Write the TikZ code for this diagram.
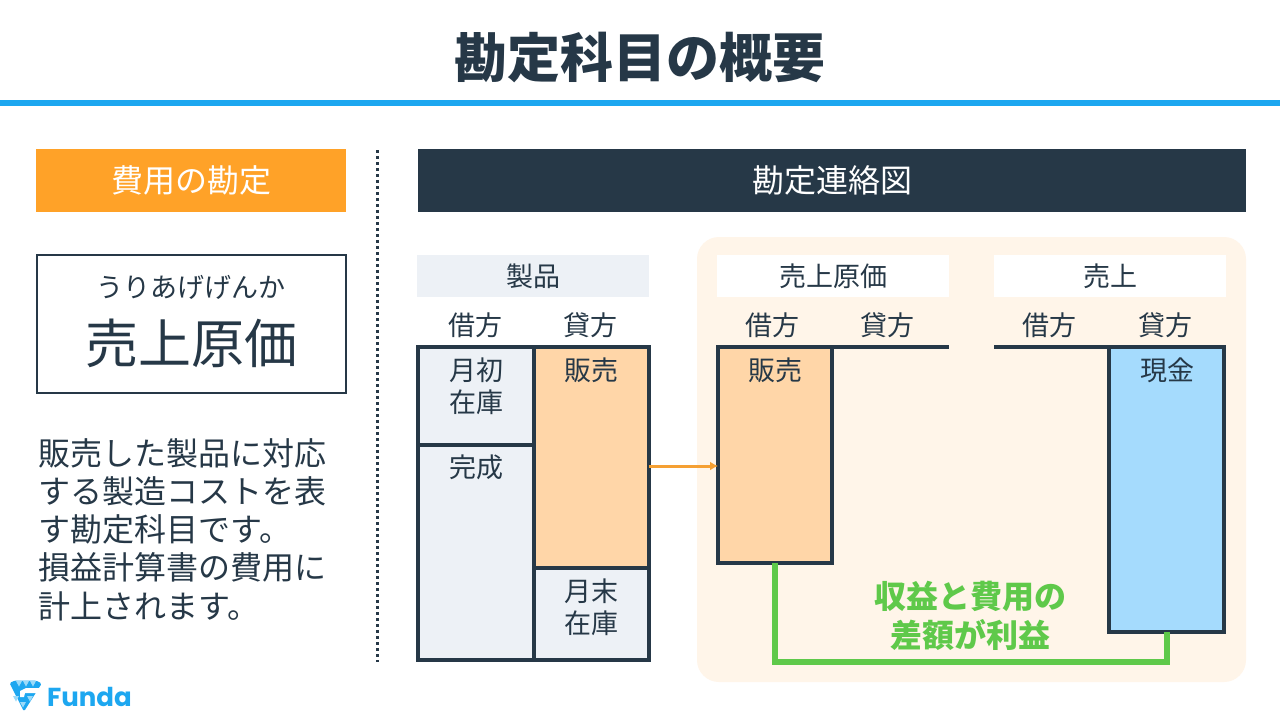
\documentclass[tikz,border=0pt]{standalone}
\usepackage{fontspec}
\setmainfont{Noto Sans CJK JP}
\newfontfamily\logofont{Poppins}
\usetikzlibrary{arrows.meta, positioning, calc}

\definecolor{navy}{HTML}{263847}
\definecolor{skyline}{HTML}{1DA7F0}
\definecolor{skylight}{HTML}{9ADAF9}
\definecolor{orangehead}{HTML}{FFA228}
\definecolor{orangeflow}{HTML}{F5A033}
\definecolor{peachfill}{HTML}{FFD6A8}
\definecolor{peachpanel}{HTML}{FFF5E9}
\definecolor{paleblue}{HTML}{EDF1F6}
\definecolor{cashblue}{HTML}{A5DBFD}
\definecolor{profitgreen}{HTML}{5FC94A}

\tikzset{
  txt/.style={text=navy, inner sep=0pt, font=\fontsize{27}{32}\selectfont},
  banner/.style={anchor=north west, inner sep=0pt, text=white, font=\fontsize{32}{38}\selectfont},
  head/.style={txt, anchor=north west, minimum width=232, minimum height=42},
  cell/.style={draw=navy, line width=3.2pt, anchor=north west, inner sep=0pt, outer sep=0pt},
  rule/.style={draw=navy, line width=3.2pt}
}

\begin{document}
\begin{tikzpicture}[x=1pt, y=-1pt]
\useasboundingbox (0,0) rectangle (1280,720);
\fill[white] (0,0) rectangle (1280,720);

% Title
\node[text=navy, inner sep=0pt, font=\fontsize{53}{60}\selectfont\bfseries] (title) at (640,58) {勘定科目の概要};
\fill[skyline] (0,100) rectangle (1280,106);

% Left column
\node[banner, fill=orangehead, minimum width=310, minimum height=63] (kind) at (36,149) {費用の勘定};
\node[draw=navy, line width=2pt, anchor=north west, minimum width=309, minimum height=138] (namebox) at (36,254) {};
\node[txt] (kana) at (191,287) {うりあげげんか};
\node[txt, font=\fontsize{53}{60}\selectfont] (name) at (191,343) {売上原価};
\node[txt, anchor=north west, align=left, font=\fontsize{32}{38.3}\selectfont] (desc) at (38,438) {販売した製品に対応\\する製造コストを表\\す勘定科目です。\\損益計算書の費用に\\計上されます。};

% Divider
\draw[navy, line width=3pt, dash pattern=on 3pt off 3pt] (377,150) -- (377,662);

% Right column
\node[banner, fill=navy, minimum width=828, minimum height=63] (chart) at (418,149) {勘定連絡図};
\fill[peachpanel, rounded corners=22pt] (697,237) rectangle (1246,682);

% Product account
\node[head, fill=paleblue] (prod) at (417,255) {製品};
\node[txt] (proddr) at (475,325) {借方};
\node[txt] (prodcr) at (590,325) {貸方};
\node[cell, fill=paleblue, minimum width=116, minimum height=98] (open) at (418,347) {};
\node[cell, fill=paleblue, minimum width=116, minimum height=215] (done) at (418,445) {};
\node[cell, fill=peachfill, minimum width=115, minimum height=221] (prodsale) at (534,347) {};
\node[cell, fill=paleblue, minimum width=115, minimum height=92] (close) at (534,568) {};
\node[txt, align=center] (opentxt) at (476,386) {月初\\在庫};
\node[txt] (donetxt) at (476,467) {完成};
\node[txt] (prodsaletxt) at (591,370) {販売};
\node[txt, align=center] (closetxt) at (591,607) {月末\\在庫};

% Cost account
\node[head, fill=white] (cost) at (717,255) {売上原価};
\node[txt] (costdr) at (772,325) {借方};
\node[txt] (costcr) at (887,325) {貸方};
\node[cell, fill=peachfill, minimum width=114, minimum height=216] (costsale) at (718,347) {};
\node[txt] (costsaletxt) at (775,370) {販売};
\coordinate (costend) at (949,347);
\draw[rule] (costsale.north east) -- (costend);

% Sales account
\node[head, fill=white] (sales) at (994,255) {売上};
\node[txt] (salesdr) at (1049,325) {借方};
\node[txt] (salescr) at (1165,325) {貸方};
\node[cell, fill=cashblue, minimum width=115, minimum height=285] (cash) at (1109,347) {};
\node[txt] (cashtxt) at (1167,370) {現金};
\coordinate (salesstart) at (994,347);
\draw[rule] (salesstart) -- (cash.north west);

% Connectors
\coordinate (flowy) at (0,466);
\coordinate (greeny) at (970,662);
\draw[orangeflow, line width=3pt, -{Latex[length=8pt,width=9pt]}] (prodsale.east |- flowy) -- (costsale.west |- flowy);
\draw[profitgreen, line width=6pt] (costsale.south) |- (greeny) -| (cash.south);
\node[inner sep=0pt, align=center, text=profitgreen, font=\fontsize{32}{39}\selectfont\bfseries] (profit) at (970,616) {収益と費用の\\差額が利益};

% Logo
\fill[skyline, rounded corners=1.5pt] (9.5,683) -- (15,680.5) -- (36,680.5) -- (41.7,683.5) -- (24,711.5) -- cycle;
\foreach \tx/\ty in {16/681, 23/681, 30/681, 13/696, 20/702, 27/696}
  \fill[skylight] (\tx,\ty) -- ++(6,0) -- ++(-3,5.5) -- cycle;
\fill[white] (42,688) -- (26,688) -- (20,691) -- (20,697) -- (24,697) -- (25,693) -- (42,693) -- cycle;
\node[anchor=west, inner sep=0pt, text=skyline, font=\fontsize{26}{30}\selectfont\logofont\bfseries] (logo) at (47,697) {Funda};
\end{tikzpicture}
\end{document}
